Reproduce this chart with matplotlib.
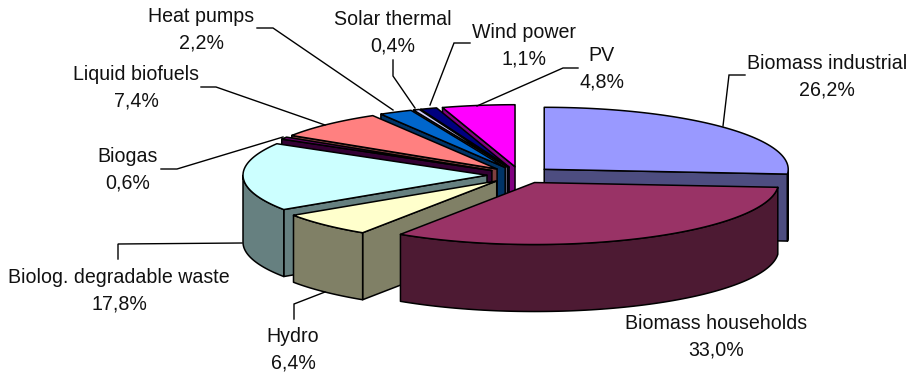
import numpy as np
import matplotlib
matplotlib.use("Agg")
import matplotlib.pyplot as plt
from matplotlib.colors import to_rgb
from matplotlib.patches import Polygon

# Shares of renewable energy sources, percent
sources = ["Biomass industrial", "Biomass households", "Hydro",
           "Biolog. degradable waste", "Biogas", "Liquid biofuels",
           "Heat pumps", "Solar thermal", "Wind power", "PV"]
shares = [26.2, 33.0, 6.4, 17.8, 0.6, 7.4, 2.2, 0.4, 1.1, 4.8]
top_colors = ["#9999FF", "#993366", "#FFFFCC", "#CCFFFF", "#660066",
              "#FF8080", "#0066CC", "#CCCCFF", "#000080", "#FF00FF"]

# Label centres in canvas pixels, and the leader-line path of each label
label_xy = [(827, 76.5), (716, 336.5), (293, 349.5), (119, 290.5), (128, 169.5),
            (136, 88), (201, 29.5), (393, 32.5), (524, 45.5), (602, 68.5)]
leaders = [
    [(745, 75), (729, 75), (723, 126)],
    None,
    [(294, 319), (294, 304), (325, 292)],
    [(118, 259), (118, 244), (242, 243)],
    [(161, 169), (177, 169), (283, 137)],
    [(201, 87), (216, 87), (325, 125)],
    [(257, 28), (273, 28), (393, 110)],
    [(393, 60), (393, 76), (415, 108)],
    [(470, 43), (454, 43), (430, 105)],
    [(578, 68), (563, 68), (477, 106)],
]

# Projected pie geometry
CX, CY = 520.0, 175.0
RX, RY = 244.0, 62.0
DEPTH = 67.0
EXPLODE = 33.0
EDGE_LW = 1.1

plt.rcParams["font.family"] = ["Liberation Sans", "DejaVu Sans"]
fig = plt.figure(figsize=(9.09, 3.72), dpi=100)
ax = fig.add_axes([0, 0, 1, 1])
ax.set_xlim(0, 909)
ax.set_ylim(372, 0)
ax.axis("off")


def on_ellipse(theta, apex):
    """Rim point at theta radians, clockwise from twelve o'clock."""
    return apex + np.array([RX * np.sin(theta), -RY * np.cos(theta)])


def darker(color):
    return tuple(0.5 * c for c in to_rgb(color))


def face(points, color, z):
    ax.add_patch(Polygon(points, closed=True, facecolor=color, edgecolor="black",
                         linewidth=EDGE_LW, joinstyle="round", zorder=z))


drop = np.array([0.0, DEPTH])
ends = np.cumsum(shares) / np.sum(shares) * 2 * np.pi
starts = np.concatenate([[0.0], ends[:-1]])
mids = (starts + ends) / 2

# Painter's order: slices further back are drawn first
order = np.argsort(-np.cos(mids))
for rank, i in enumerate(order):
    t0, t1, tm = starts[i], ends[i], mids[i]
    apex = np.array([CX + EXPLODE * np.sin(tm),
                     CY - EXPLODE * RY / RX * np.cos(tm)])
    side = darker(top_colors[i])
    z = 2 + rank

    # Radial cut faces that turn towards the viewer
    inner = on_ellipse(tm, apex) - apex
    for t in (t0, t1):
        rim = on_ellipse(t, apex)
        u = rim - apex
        n = np.array([-u[1], u[0]])
        if n @ inner > 0:
            n = -n
        if n[1] > 1e-6:
            face([apex, rim, rim + drop, apex + drop], side, z)

    # Front part of the outer rim
    lo, hi = max(t0, np.pi / 2), min(t1, 3 * np.pi / 2)
    if hi > lo:
        arc = np.array([on_ellipse(t, apex) for t in np.linspace(lo, hi, 90)])
        face(np.vstack([arc, (arc + drop)[::-1]]), side, z)

    # Top surface
    arc = np.array([on_ellipse(t, apex) for t in np.linspace(t0, t1, 90)])
    face(np.vstack([[apex], arc]), top_colors[i], z)

# Labels and leader lines
for name, share, xy, path in zip(sources, shares, label_xy, leaders):
    value = f"{share:.1f}".replace(".", ",")
    ax.text(xy[0], xy[1], f"{name}\n{value}%", ha="center", va="center",
            fontsize=14.1, linespacing=1.5, color="#111111", zorder=30)
    if path is not None:
        ax.plot(*zip(*path), color="black", lw=1.0, zorder=29,
                solid_joinstyle="miter")

fig.savefig("out.png", dpi=100)
